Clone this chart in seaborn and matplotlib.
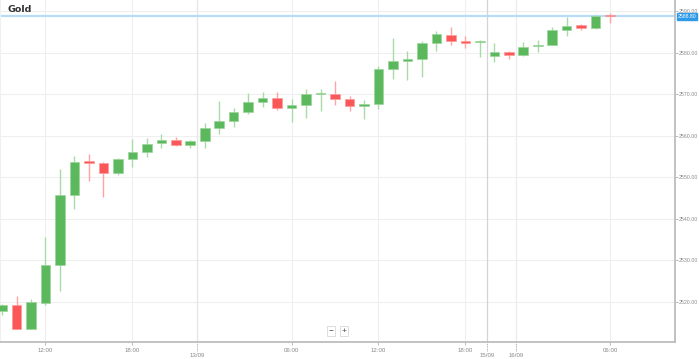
import numpy as np
import matplotlib
matplotlib.use("Agg")
import matplotlib.pyplot as plt
import matplotlib.transforms as mtransforms
import pandas as pd
import seaborn as sns

# hourly candles
opens = [2517.8, 2519.2, 2513.4, 2519.8, 2528.8, 2545.6, 2553.6, 2553.5, 2550.9, 2554.3,
         2556.1, 2558.2, 2559.0, 2557.7, 2558.7, 2561.8, 2563.5, 2565.7, 2568.1, 2569.2,
         2566.7, 2567.4, 2570.0, 2570.0, 2568.8, 2567.2, 2567.6, 2576.0, 2577.9, 2578.6,
         2582.4, 2584.3, 2582.8, 2582.5, 2579.3, 2580.2, 2579.4, 2581.5, 2581.9, 2585.5,
         2586.6, 2585.9, 2589.0]
closes = [2519.2, 2513.4, 2519.9, 2528.8, 2545.7, 2553.6, 2553.5, 2550.9, 2554.3, 2556.1,
          2558.1, 2559.0, 2557.7, 2558.7, 2561.8, 2563.5, 2565.7, 2568.2, 2569.2, 2566.6,
          2567.4, 2570.0, 2570.3, 2568.8, 2567.2, 2567.6, 2576.0, 2577.9, 2578.5, 2582.4,
          2584.5, 2582.9, 2582.4, 2582.9, 2580.2, 2579.4, 2581.4, 2581.9, 2585.5, 2586.5,
          2586.0, 2588.9, 2588.8]
highs = [2519.5, 2521.4, 2520.7, 2535.7, 2552.0, 2555.1, 2555.5, 2553.7, 2554.6, 2559.1,
         2559.4, 2560.3, 2559.6, 2558.9, 2563.0, 2568.3, 2566.6, 2570.2, 2570.5, 2570.5,
         2568.8, 2571.3, 2571.2, 2573.2, 2569.6, 2568.6, 2576.9, 2583.6, 2580.4, 2582.8,
         2585.3, 2586.3, 2584.0, 2583.1, 2582.3, 2580.4, 2582.7, 2583.1, 2586.3, 2588.5,
         2586.9, 2589.2, 2589.6]
lows = [2516.8, 2513.4, 2513.4, 2519.2, 2522.5, 2542.3, 2549.2, 2545.2, 2550.5, 2552.4,
        2554.9, 2557.1, 2557.5, 2557.1, 2557.1, 2560.4, 2562.0, 2565.2, 2567.0, 2566.2,
        2563.4, 2564.2, 2566.0, 2567.4, 2566.0, 2564.0, 2566.4, 2573.7, 2573.4, 2574.1,
        2580.4, 2581.9, 2581.1, 2578.9, 2577.8, 2578.5, 2579.3, 2580.2, 2581.8, 2584.0,
        2585.4, 2585.8, 2587.1]

last_price = 2588.80
y_ticks = [2520, 2530, 2540, 2550, 2560, 2570, 2580, 2590]
hour_pos = [3, 9, 20, 26, 32, 42]
hour_labels = ["12:00", "18:00", "06:00", "12:00", "18:00", "06:00"]
date_pos = [13.5, 33.5, 35.5]
date_labels = ["13/09", "15/09", "16/09"]

df = pd.DataFrame({"open": opens, "high": highs, "low": lows, "close": closes})
df["i"] = np.arange(len(df))
df["up"] = df["close"] >= df["open"]

sns.set_theme(style="white")
plt.rcParams["font.family"] = ["Liberation Sans", "DejaVu Sans"]

fig = plt.figure(figsize=(6.99, 3.59), dpi=100)
ax = fig.add_axes([0, 17 / 359, 675 / 699, 342 / 359])

GREEN, RED = "#5cb85c", "#fa5858"
GREEN_W, RED_W = "#a9dba9", "#ffa3a3"

# grid
for y in y_ticks:
    ax.axhline(y, color="#efefef", lw=0.8, zorder=0)
for x in hour_pos:
    ax.axvline(x, color="#efefef", lw=0.8, zorder=0)
ax.axvline(date_pos[0], color="#e6e6e6", lw=0.9, zorder=0)
ax.axvline(date_pos[1], color="#d4d4d4", lw=0.9, zorder=0)
ax.axvline(date_pos[2], color="#ececec", lw=0.9, zorder=0)

# wicks
ax.vlines(df["i"], df["low"], df["high"],
          colors=np.where(df["up"], GREEN_W, RED_W), lw=1.0, zorder=2)

# bodies
body = (df["close"] - df["open"]).abs().clip(lower=0.3)
bottom = df[["open", "close"]].min(axis=1)
ax.bar(df["i"], body, bottom=bottom, width=0.66,
       color=np.where(df["up"], GREEN, RED),
       edgecolor=np.where(df["up"], "#9bd49b", "#ff9a9a"), linewidth=0.5, zorder=3)

# last price line
ax.axhline(last_price, color="#b6dcf7", lw=1.6, zorder=1)

ax.set_xlim(-0.14, 46.48)
ax.set_ylim(2510.3, 2592.7)

ax.yaxis.tick_right()
ax.set_yticks(y_ticks)
ax.set_yticklabels([f"{v:.2f}" for v in y_ticks])
ax.tick_params(axis="y", right=True, length=1.8, width=0.6, color="#b0b0b0",
               labelsize=3.8, labelcolor="#8a8a8a", pad=1.2)

ax.set_xticks(hour_pos)
ax.set_xticklabels(hour_labels)
ax.set_xticks(date_pos, minor=True)
ax.set_xticklabels(date_labels, minor=True)
ax.tick_params(axis="x", which="major", bottom=True, length=2.5, width=0.6,
               color="#b0b0b0", labelsize=4.4, labelcolor="#8a8a8a", pad=2)
ax.tick_params(axis="x", which="minor", bottom=True, length=0,
               labelsize=4.4, labelcolor="#8a8a8a", pad=8)

# dotted date ticks under the axis
trans = mtransforms.blended_transform_factory(ax.transAxes, ax.transData)
xtrans = mtransforms.blended_transform_factory(ax.transData, ax.transAxes)
for x in date_pos:
    ax.plot([x, x], [-0.025, 0], transform=xtrans, clip_on=False,
            color="#9a9a9a", lw=0.6, ls=(0, (1, 1)))

ax.spines["top"].set_visible(False)
ax.spines["left"].set_color("#f0f0f0")
ax.spines["left"].set_linewidth(0.8)
ax.spines["right"].set_color("#b8b8b8")
ax.spines["bottom"].set_color("#b8b8b8")
ax.spines["right"].set_linewidth(1.2)
ax.spines["bottom"].set_linewidth(1.2)

# last price tag
ax.text(1.004, last_price, f"{last_price:.2f}", transform=trans, fontsize=3.7,
        color="white", va="center", ha="left", zorder=10, clip_on=False,
        bbox=dict(boxstyle="square,pad=0.2", fc="#2f9be8", ec="#2f9be8"))

# title
fig.text(8 / 699, 1 - 10 / 359, "Gold", fontsize=6.8, fontweight="bold",
         color="#333333", va="center", ha="left", family="DejaVu Sans")

# zoom buttons
for xp, s in [(331, "\u2212"), (344, "+")]:
    fig.text(xp / 699, 1 - 331 / 359, s, fontsize=6, color="#444444",
             ha="center", va="center",
             bbox=dict(boxstyle="square,pad=0.2", fc="white", ec="#d8d8d8", lw=0.6))

fig.savefig("out.png", dpi=100)
